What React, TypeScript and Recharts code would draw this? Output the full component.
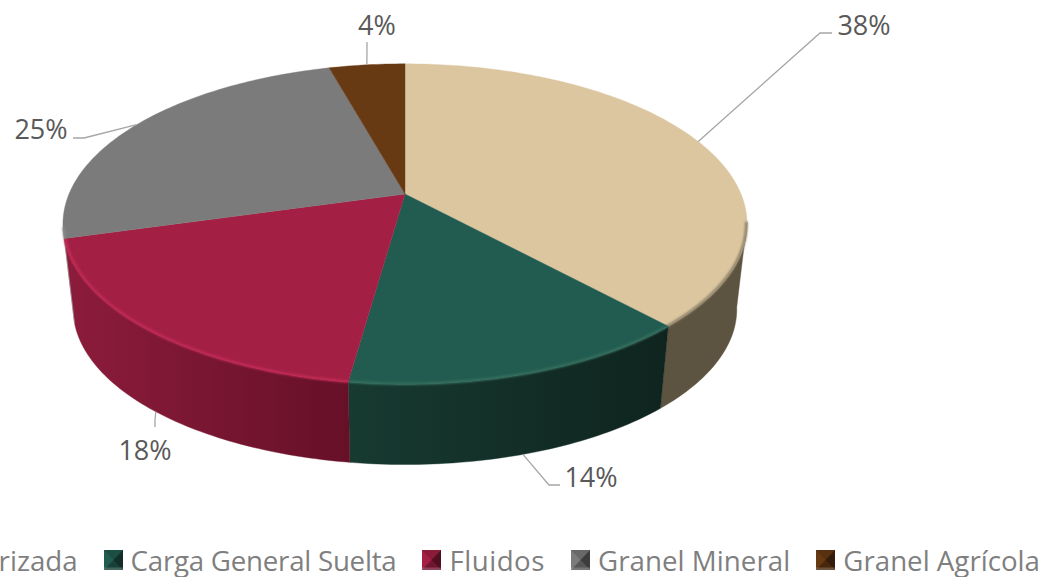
import React from "react";
import { PieChart, Pie, Legend } from "recharts";

const categories = ["Carga Contenedorizada", "Carga General Suelta", "Fluidos", "Granel Mineral", "Granel Agrícola"];
const shares = [38.2, 14.0, 18.4, 25.1, 4.3];
const topColors = ["#dbc69f", "#225c50", "#a32044", "#7b7b7b", "#673a14"];
const wallFrom = ["#5c5340", "#173a31", "#8c1c3b", "#9a9a9a", "#4a2a0e"];
const wallTo = ["#5c5340", "#0f241e", "#661028", "#9a9a9a", "#4a2a0e"];
const rimColors = ["#857a63", "#37705f", "#c52b57", "#8a8a8a", "#7a4a20"];
const legendSpacing = [0, -0.25, 0.5, 0.05, 0];

const data = categories.map((name, i) => ({ name, value: shares[i] }));

// 3D projection of the disc
const CX = 405;
const CY = 194;
const R = 336;
const TILT = 0.46;
const PERSP = 0.1875;
const BOTTOM_SCALE = 0.97;
const BOTTOM_CY = 280;
const FRONT_FROM = 100;
const FRONT_TO = 258;

const rad = (d: number) => (d * Math.PI) / 180;
function project(theta: number, cx: number, cy: number, r: number) {
  const u = Math.sin(rad(theta));
  const v = Math.cos(rad(theta));
  const w = 1 + PERSP * v;
  return [cx + (r * u) / w, cy - (r * TILT * v) / w];
}
const topPt = (t: number, cx: number, cy: number, r: number) => project(t, cx, cy, r);
const botPt = (t: number, cx: number, cy: number, r: number) =>
  project(t, cx, cy + (BOTTOM_CY - CY), r * BOTTOM_SCALE);

function arc(a: number, b: number, f: (t: number) => number[]) {
  const n = Math.max(2, Math.ceil(Math.abs(b - a)));
  const pts: number[][] = [];
  for (let i = 0; i <= n; i++) pts.push(f(a + ((b - a) * i) / n));
  return pts;
}
const toPath = (pts: number[][]) => pts.map((p, i) => `${i ? "L" : "M"}${p[0].toFixed(2)},${p[1].toFixed(2)}`).join("");

const TopSlice = (p: any) => {
  const i = categories.indexOf(p.name);
  const a = 90 - p.startAngle;
  const b = 90 - p.endAngle;
  const pts = arc(a, b, (t) => topPt(t, p.cx, p.cy, p.outerRadius));
  const d = `M${p.cx},${p.cy}` + toPath(pts).replace("M", "L") + "Z";
  const s = Math.max(a, FRONT_FROM);
  const e = Math.min(b, FRONT_TO);
  return (
    <g>
      <path d={d} fill={topColors[i]} stroke={topColors[i]} strokeWidth={0.4} />
      {e > s && (
        <path
          d={toPath(arc(s, e, (t) => topPt(t, p.cx, p.cy, p.outerRadius - 0.8)))}
          fill="none"
          stroke={rimColors[i]}
          strokeWidth={2.5}
          style={{ filter: "blur(0.8px)" }}
        />
      )}
    </g>
  );
};

const WallSlice = (p: any) => {
  const i = categories.indexOf(p.name);
  const a = Math.max(90 - p.startAngle, FRONT_FROM);
  const b = Math.min(90 - p.endAngle, FRONT_TO);
  if (b <= a) return <g />;
  const t = arc(a, b, (x) => topPt(x, p.cx, p.cy, p.outerRadius));
  const m = arc(b, a, (x) => botPt(x, p.cx, p.cy, p.outerRadius));
  const id = `wall-${i}`;
  const xs = [...t, ...m].map((q) => q[0]);
  const left = Math.min(...xs);
  const right = Math.max(...xs);
  return (
    <g>
      <defs>
        <linearGradient id={id} gradientUnits="userSpaceOnUse" x1={right} x2={left} y1={0} y2={0}>
          <stop offset="0" stopColor={wallTo[i]} />
          <stop offset="1" stopColor={wallFrom[i]} />
        </linearGradient>
      </defs>
      <path d={toPath([...t, ...m]) + "Z"} fill={`url(#${id})`} stroke={`url(#${id})`} strokeWidth={0.4} />
    </g>
  );
};

// leader-line routing, in slice order: elbow, line end, label centre
const leaderRoutes = [
  { fromWall: false, elbow: [820, 33], end: [832, 33], text: [864, 24] },
  { fromWall: true, elbow: [549, 485], end: [560, 485], text: [591, 476] },
  { fromWall: true, elbow: [155, 420], end: [155, 427], text: [145, 449] },
  { fromWall: false, elbow: [84, 138], end: [73, 138], text: [41, 128] },
  { fromWall: false, elbow: [367, 50], end: [367, 42], text: [377, 24] },
];

const SliceLabel = (p: any) => {
  const i = categories.indexOf(p.name);
  const theta = 90 - p.midAngle;
  const route = leaderRoutes[i];
  const start = route.fromWall ? botPt(theta, CX, CY, R) : topPt(theta, CX, CY, R);
  return (
    <g>
      <polyline
        points={`${start[0]},${start[1]} ${route.elbow[0]},${route.elbow[1]} ${route.end[0]},${route.end[1]}`}
        fill="none"
        stroke="#a6a6a6"
        strokeWidth={1.3}
      />
      <text
        x={route.text[0]}
        y={route.text[1]}
        textAnchor="middle"
        dominantBaseline="central"
        fontFamily="'Open Sans', sans-serif"
        fontSize={27}
        fill="#595959"
      >
        {Math.round(p.percent * 100)}%
      </text>
    </g>
  );
};

const Swatch = ({ i }: { i: number }) => {
  const c = topColors[i];
  return (
    <svg width={19} height={20} style={{ flexShrink: 0, marginRight: 8 }}>
      <rect width={19} height={20} fill={c} />
      <polygon points="19,0 9.5,10 19,20" fill="#000" opacity={0.5} />
      <polygon points="0,0 9.5,10 19,0" fill="#000" opacity={0.15} />
      <polygon points="0,20 9.5,10 19,20" fill="#000" opacity={0.3} />
      <rect x={0} y={17.5} width={19} height={2.5} fill="#fff" opacity={0.2} />
    </svg>
  );
};

const LegendRow = () => (
  <div
    style={{
      display: "flex",
      justifyContent: "flex-end",
      alignItems: "center",
      width: 1040,
      whiteSpace: "nowrap",
      fontFamily: "'Open Sans', sans-serif",
      fontSize: 27.7,
      lineHeight: "34px",
      color: "#7f7f7f",
    }}
  >
    {categories.map((name, k) => (
      <div key={name} style={{ display: "flex", alignItems: "center", flexShrink: 0, marginLeft: k ? 26 : 0 }}>
        <Swatch i={k} />
        <span style={{ letterSpacing: legendSpacing[k] }}>{name}</span>
      </div>
    ))}
  </div>
);

export default function App() {
  return (
    <div style={{ position: "fixed", left: 0, top: 0, width: 1048, height: 577, overflow: "hidden", background: "#fff" }}>
      <PieChart width={1048} height={577} margin={{ top: 0, right: 0, bottom: 0, left: 0 }}>
        <Pie
          data={data}
          dataKey="value"
          nameKey="name"
          cx={CX}
          cy={CY}
          outerRadius={R}
          startAngle={90}
          endAngle={-270}
          stroke="none"
          legendType="none"
          isAnimationActive={false}
          shape={WallSlice}
        />
        <Pie
          data={data}
          dataKey="value"
          nameKey="name"
          cx={CX}
          cy={CY}
          outerRadius={R}
          startAngle={90}
          endAngle={-270}
          stroke="none"
          isAnimationActive={false}
          shape={TopSlice}
          label={SliceLabel}
          labelLine={false}
        />
        <Legend
          content={LegendRow}
          wrapperStyle={{ position: "absolute", left: 0, top: 543, width: 1040, height: 34, margin: 0 }}
        />
      </PieChart>
    </div>
  );
}
